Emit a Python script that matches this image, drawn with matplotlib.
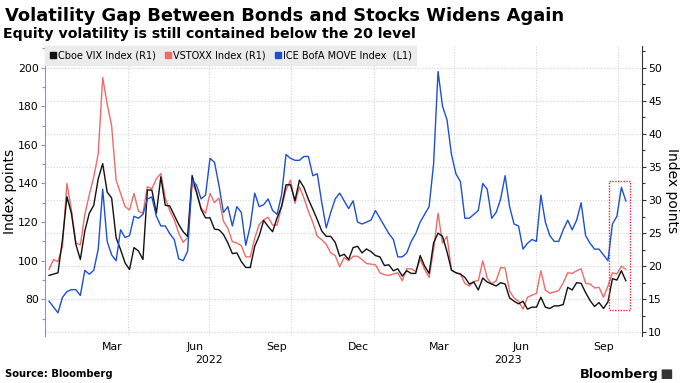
import matplotlib
matplotlib.use("Agg")
import matplotlib.pyplot as plt
import matplotlib.dates as mdates
import matplotlib.transforms as mtransforms
from matplotlib.lines import Line2D
from matplotlib.patches import Rectangle, FancyBboxPatch
from matplotlib.ticker import MultipleLocator, FixedLocator
import pandas as pd

dates = pd.date_range("2022-01-03", periods=130, freq="5D")

vix = [18.6, 18.8, 19.0, 24.0, 30.5, 28.0, 23.3, 21.0, 25.3, 28.0,
       29.2, 33.2, 35.5, 31.2, 30.3, 24.3, 22.5, 20.5, 19.5, 22.8,
       22.3, 21.0, 31.5, 31.5, 28.0, 33.5, 29.2, 29.1, 27.7, 26.3,
       25.2, 24.5, 33.7, 31.1, 28.6, 27.3, 27.3, 25.6, 25.5, 24.8,
       23.5, 21.9, 22.0, 20.7, 19.8, 19.8, 23.0, 24.6, 26.9, 26.0,
       25.2, 27.3, 29.0, 32.3, 32.3, 29.9, 33.0, 31.9, 30.1, 28.6,
       27.0, 25.3, 24.5, 24.5, 23.6, 21.5, 21.8, 21.0, 22.8, 23.0,
       22.0, 22.6, 22.2, 21.6, 21.4, 20.1, 20.2, 19.3, 19.6, 18.5,
       19.3, 18.9, 18.9, 21.6, 20.0, 18.9, 23.5, 25.0, 24.5, 22.2,
       19.4, 19.0, 18.8, 18.3, 17.3, 17.6, 16.4, 18.2, 17.6, 17.3,
       17.0, 17.5, 17.3, 15.2, 14.7, 14.3, 14.7, 13.5, 13.8, 13.8,
       15.3, 13.8, 13.6, 14.0, 14.0, 14.2, 16.8, 16.4, 17.5, 17.4,
       16.0, 14.8, 13.9, 14.5, 13.6, 14.6, 18.1, 17.9, 19.3, 17.8]

vstoxx = [19.5, 21.0, 20.7, 23.0, 32.5, 28.5, 23.5, 23.2, 27.8, 30.8,
          33.5, 37.0, 48.5, 44.5, 41.2, 33.0, 31.0, 29.0, 28.5, 31.0,
          28.3, 28.0, 32.0, 31.7, 33.2, 34.0, 30.3, 28.4, 27.0, 25.0,
          23.6, 24.3, 32.5, 31.2, 28.8, 28.0, 31.0, 29.6, 30.3, 26.8,
          25.7, 23.7, 23.5, 23.1, 21.4, 21.4, 24.2, 26.3, 27.0, 27.4,
          26.2, 26.2, 29.0, 31.5, 33.0, 29.5, 32.0, 30.3, 28.3, 26.6,
          24.5, 24.0, 23.3, 22.0, 21.6, 19.9, 21.3, 20.8, 21.5, 21.5,
          21.0, 20.4, 20.3, 20.2, 19.0, 18.7, 18.6, 18.8, 19.0, 17.8,
          19.6, 19.6, 19.2, 21.0, 19.5, 18.3, 22.5, 28.0, 23.5, 24.5,
          19.4, 19.0, 18.8, 17.4, 17.0, 17.7, 17.8, 20.8, 18.2, 17.3,
          17.8, 19.8, 19.7, 16.2, 15.2, 14.7, 13.5, 15.3, 15.6, 15.9,
          19.3, 16.4, 15.9, 16.1, 16.3, 17.5, 19.0, 18.9, 19.3, 19.6,
          17.4, 17.3, 16.7, 16.8, 15.3, 17.0, 19.0, 18.8, 20.0, 19.5]

move = [79, 76, 73, 81, 84, 85, 85, 82, 95, 93,
        95, 106, 137, 110, 103, 100, 116, 112, 113, 123,
        122, 124, 132, 133, 123, 118, 118, 114, 111, 101,
        100, 105, 142, 139, 132, 134, 153, 151, 139, 125,
        128, 118, 128, 125, 108, 118, 135, 128, 129, 132,
        126, 124, 134, 155, 153, 152, 152, 154, 154, 144,
        145, 130, 117, 125, 132, 135, 131, 127, 131, 120,
        119, 120, 121, 126, 122, 118, 114, 111, 102, 102,
        104, 110, 114, 120, 124, 128, 150, 198, 180, 173,
        155, 145, 141, 122, 122, 124, 126, 140, 137, 122,
        125, 132, 144, 128, 119, 118, 106, 109, 111, 110,
        134, 120, 113, 110, 110, 116, 121, 116, 121, 130,
        113, 109, 106, 106, 103, 100, 119, 123, 138, 131]

month_ticks = ["2022-03-15", "2022-06-15", "2022-09-15", "2022-12-15",
               "2023-03-15", "2023-06-15", "2023-09-15"]
month_labels = ["Mar", "Jun", "Sep", "Dec", "Mar", "Jun", "Sep"]
quarter_lines = ["2022-04-01", "2022-07-01", "2022-10-01", "2023-01-01",
                 "2023-04-01", "2023-07-01", "2023-10-01"]
highlight = ("2023-09-21", "2023-10-15", 13.4, 32.9)  # start, end, low, high (R1)

BLUE = "#1c4fd2"
RED = "#f06a6a"
BLACK = "#111111"
LEFT_AX = "#7d98d8"
TICK_FS = 7.8

fig = plt.figure(figsize=(6.8, 3.83), dpi=100)
ax = fig.add_axes([0.0662, 0.1227, 0.8775, 0.7572])
axl = ax.twinx()   # MOVE, drawn on top, ticks moved to the left below

x_lo = pd.Timestamp("2021-12-29 12:00")
x_hi = pd.Timestamp("2023-10-27 18:00")

# right axis (VIX / VSTOXX) carries the grid
ax.plot(dates, vstoxx, color=RED, lw=1.0, zorder=3)
ax.plot(dates, vix, color=BLACK, lw=1.0, zorder=4)
ax.set_xlim(x_lo, x_hi)
ax.set_ylim(9.44, 53.28)
ax.yaxis.tick_right()
ax.yaxis.set_label_position("right")
ax.set_yticks(range(10, 55, 5))
ax.yaxis.set_minor_locator(MultipleLocator(2.5))
ax.tick_params(axis="y", which="major", length=3, width=0.8, color="#333333",
               labelsize=TICK_FS, pad=1.5)
ax.tick_params(axis="y", which="minor", length=2, width=0.8, color="#333333")
ax.set_ylabel("Index points", fontsize=10, rotation=270, labelpad=12)

ax.xaxis.set_major_locator(FixedLocator(mdates.date2num(pd.to_datetime(month_ticks))))
ax.set_xticklabels(month_labels)
ax.xaxis.set_minor_locator(FixedLocator(mdates.date2num(pd.to_datetime(quarter_lines))))
ax.tick_params(axis="x", which="both", length=0, labelsize=TICK_FS, pad=4.5)

ax.grid(axis="y", which="major", color="#d4d4d4", lw=0.8, ls=(0, (1, 1.5)), zorder=0)
ax.grid(axis="x", which="minor", color="#d4d4d4", lw=0.8, ls=(0, (1, 1.5)), zorder=0)
ax.grid(axis="x", which="major", visible=False)

for s in ["top", "left", "bottom"]:
    ax.spines[s].set_visible(False)
ax.spines["right"].set_color("#333333")
ax.spines["right"].set_linewidth(0.8)

# highlight box around the latest weeks
h0 = mdates.date2num(pd.Timestamp(highlight[0]))
h1 = mdates.date2num(pd.Timestamp(highlight[1]))
ax.add_patch(Rectangle((h0, highlight[2]), h1 - h0, highlight[3] - highlight[2],
                       fill=False, ec="#e8283c", lw=1.0, ls=(0, (1, 1)), zorder=5))

# year labels centred on each year's visible span
blend = mtransforms.blended_transform_factory(ax.transData, ax.transAxes)
y23 = pd.Timestamp("2023-01-01")
for lo, hi, lab in [(x_lo, y23, "2022"), (y23, x_hi, "2023")]:
    mid = lo + (hi - lo) / 2
    ax.text(mdates.date2num(mid), -0.083, lab, transform=blend, ha="center",
            va="center", fontsize=TICK_FS)

# left axis (MOVE)
axl.plot(dates, move, color=BLUE, lw=1.0, zorder=3)
axl.set_ylim(61.0, 211.2)
axl.yaxis.tick_left()
axl.yaxis.set_label_position("left")
axl.set_yticks(range(80, 201, 20))
axl.yaxis.set_minor_locator(MultipleLocator(10))
axl.tick_params(axis="y", which="major", length=3, width=0.8, color=LEFT_AX,
                labelsize=TICK_FS, pad=1.5)
axl.tick_params(axis="y", which="minor", length=2, width=0.8, color=LEFT_AX)
axl.set_ylabel("Index points", fontsize=10, labelpad=0.5)
for s in ["top", "right", "bottom"]:
    axl.spines[s].set_visible(False)
axl.spines["left"].set_color(LEFT_AX)
axl.spines["left"].set_linewidth(0.8)

handles = [Line2D([], [], marker="s", ls="none", color=BLACK, markersize=5),
           Line2D([], [], marker="s", ls="none", color=RED, markersize=5),
           Line2D([], [], marker="s", ls="none", color=BLUE, markersize=5)]
labels = ["Cboe VIX Index (R1)", "VSTOXX Index (R1)", "ICE BofA MOVE Index  (L1)"]
leg = axl.legend(handles, labels, loc="upper left", bbox_to_anchor=(0, 1),
                 borderaxespad=0, ncol=3, fontsize=7, handlelength=0.7,
                 handletextpad=0.15, columnspacing=0.95, borderpad=0.45,
                 fancybox=False, framealpha=1, facecolor="#ebebeb",
                 edgecolor="#ebebeb")
leg.set_zorder(10)

# titles and footer
fig.text(0.008, 0.945, "Volatility Gap Between Bonds and Stocks Widens Again",
         fontsize=12.9, fontweight="bold", va="baseline", ha="left")
fig.text(0.004, 0.902, "Equity volatility is still contained below the 20 level",
         fontsize=10.2, fontweight="bold", va="baseline", ha="left")
fig.text(0.008, 0.016, "Source: Bloomberg", fontsize=7.2, fontweight="bold",
         va="baseline", ha="left")
fig.text(0.969, 0.013, "Bloomberg", fontsize=9.3, fontweight="bold",
         va="baseline", ha="right")
fig.patches.append(FancyBboxPatch((0.9745, 0.012), 0.0125, 0.022,
                                  boxstyle="round,pad=0.0015", fc="#333333",
                                  ec="none", transform=fig.transFigure, figure=fig))

fig.savefig("out.png", dpi=100)
